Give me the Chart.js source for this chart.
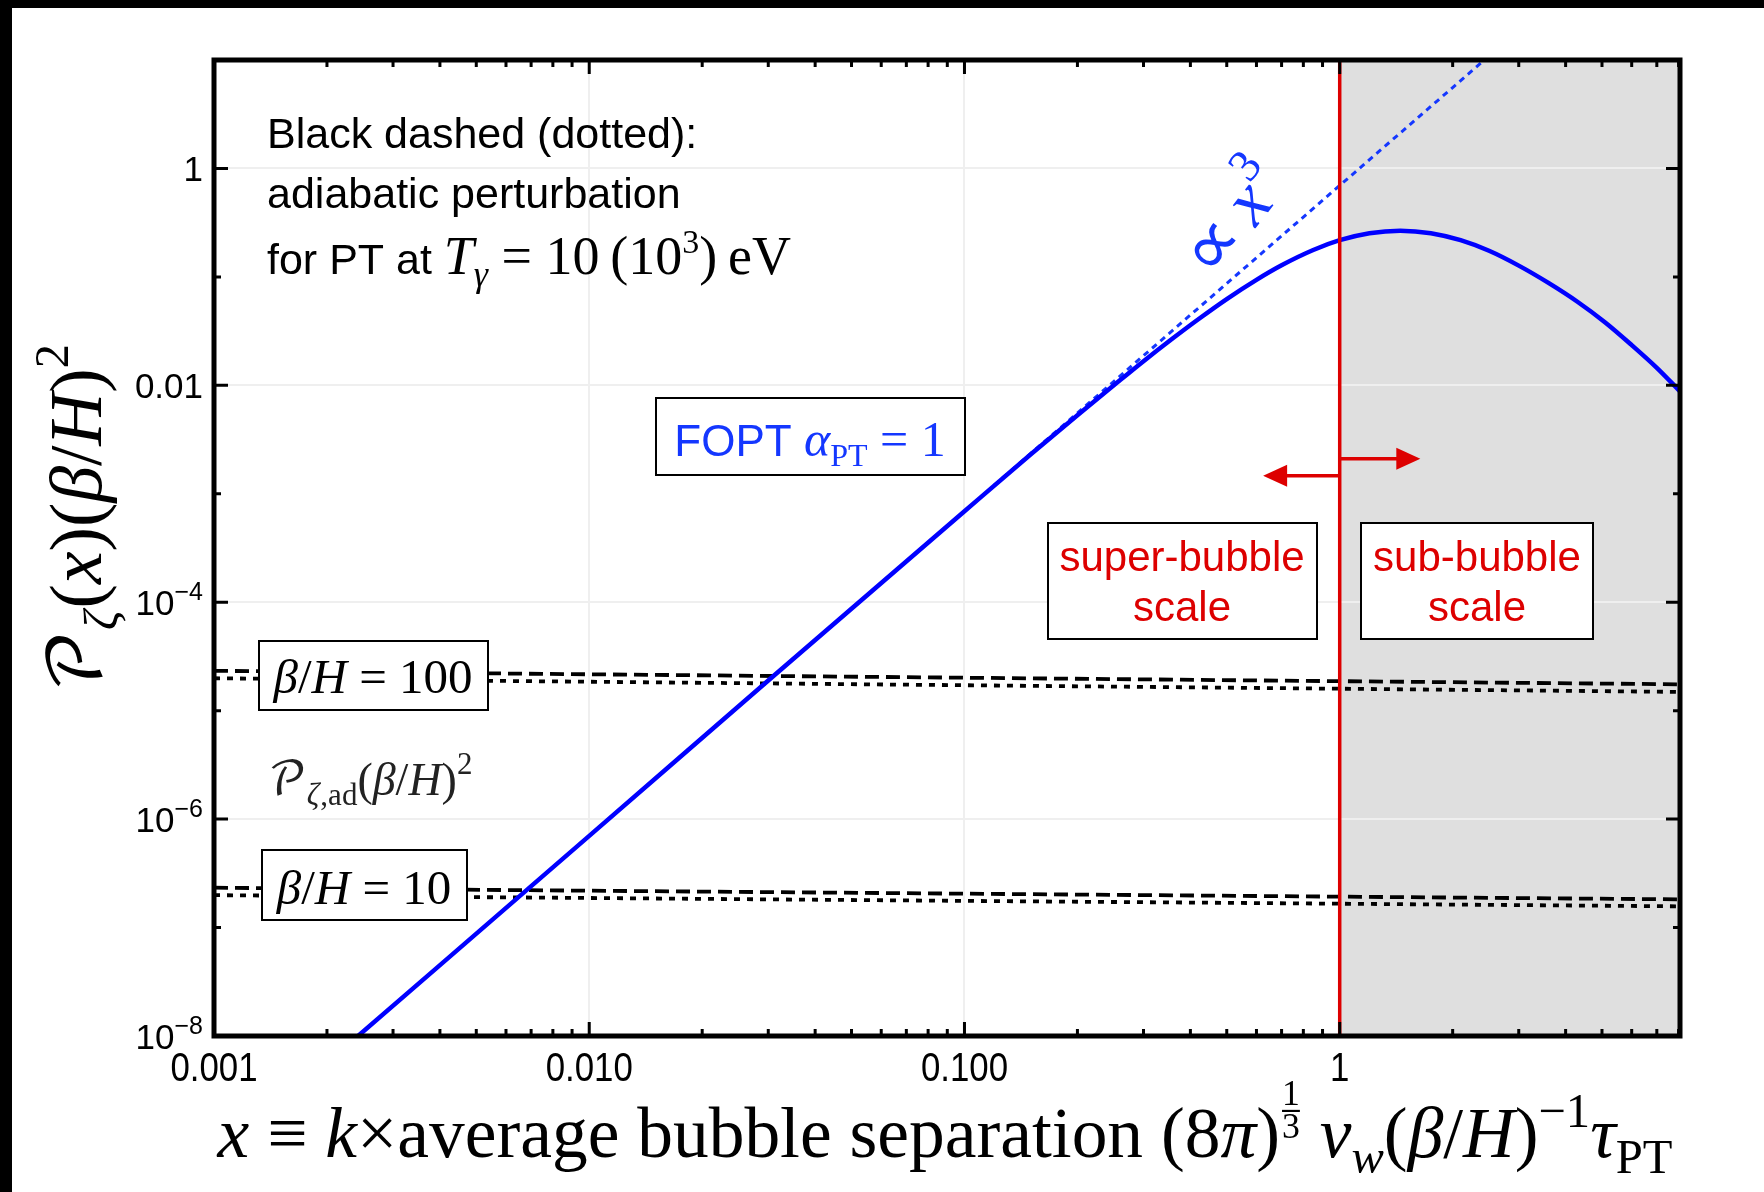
<!DOCTYPE html>
<html>
<head>
<meta charset="utf-8">
<script src="https://cdn.jsdelivr.net/npm/chart.js@4.4.0/dist/chart.umd.min.js"></script>
<style>
  html, body { margin: 0; padding: 0; background: #fff; }
  #wrap { width: 1764px; height: 1192px; }
</style>
</head>
<body>
<div id="wrap"><canvas id="chart" width="1764" height="1192"></canvas></div>
<script>
// axis ranges
const xRange = [0.001, 8.07];
const yRange = [1e-8, 10];

// labelled ticks
const xTicks = [0.001, 0.01, 0.1, 1];
const xTickLabels = ['0.001', '0.010', '0.100', '1'];
const yTicks = [1e-8, 1e-6, 1e-4, 1e-2, 1];
const yTickLabels = [['10', '\u22128'], ['10', '\u22126'], ['10', '\u22124'], ['0.01', ''], ['1', '']];

// FOPT curvature perturbation, alpha_PT = 1
const foptX = [0.00242, 0.01, 0.03, 0.1, 0.15, 0.2, 0.25, 0.3, 0.36, 0.42, 0.5, 0.6, 0.7, 0.85, 1.0,
               1.2, 1.45, 1.75, 2.1, 2.5, 3.0, 3.6, 4.3, 5.1, 6.0, 7.0, 8.07];
const foptY = [1e-8, 7.0e-7, 1.9e-5, 6.9e-4, 2.3e-3, 5.3e-3, 1.0e-2, 1.67e-2, 2.73e-2, 4.07e-2, 6.25e-2, 9.4e-2, 0.128, 0.177, 0.218,
               0.253, 0.267, 0.253, 0.218, 0.174, 0.127, 0.088, 0.059, 0.038, 0.0235, 0.0145, 0.0088];

// small-x asymptote ~ x^3
const cubicX = [0.12, 2.43];
const cubicY = [1.2e-3, 10];

// adiabatic spectrum times (beta/H)^2, at x = 0.001 and x = 8.07
const adX = [0.001, 8.07];
const ad100Dashed = [2.33e-5, 1.75e-5];
const ad100Dotted = [1.99e-5, 1.49e-5];
const ad10Dashed = [2.33e-7, 1.82e-7];
const ad10Dotted = [1.99e-7, 1.57e-7];

// boundary between super- and sub-bubble scales
const boundaryX = [1, 1];
const boundaryY = [1e-8, 10];

// arrow tips (x, y) for the two scale arrows
const arrowLeft = [0.625, 1.47e-3];
const arrowRight = [1.64, 2.1e-3];

const SANS = '"Liberation Sans", Arial, sans-serif';
const SERIF = '"Liberation Serif", "Times New Roman", serif';
const SCRIPT = '"DejaVu Math TeX Gyre", "DejaVu Serif", "DejaVu Sans", serif';
const BLUE = '#1437ff';
const RED = '#dd0000';

const pts = (xs, ys) => xs.map((x, i) => ({ x: x, y: ys[i] }));
const f = (size, family, style) => (style || '') + ' ' + size + 'px ' + family;

// minor tick values
const xMinor = [];
for (let e = -3; e <= 0; e++) {
  for (let m = 2; m <= 9; m++) {
    const v = m * Math.pow(10, e);
    if (v <= xRange[1]) xMinor.push(v);
  }
}
const yMinor = [1e-7, 1e-5, 1e-3, 1e-1];

// text runs: [{t, font, dy, color}] or fraction parts {frac:[a,b], font, dy}
function partWidth(ctx, p) {
  ctx.font = p.font;
  if (p.frac) return Math.max(ctx.measureText(p.frac[0]).width, ctx.measureText(p.frac[1]).width) + 4;
  return ctx.measureText(p.t).width + (p.kern || 0);
}
function runWidth(ctx, parts) {
  return parts.reduce((s, p) => s + partWidth(ctx, p), 0);
}
function drawRun(ctx, x, y, parts, align, color) {
  const w = runWidth(ctx, parts);
  let cx = align === 'center' ? x - w / 2 : align === 'right' ? x - w : x;
  ctx.textBaseline = 'alphabetic';
  for (const p of parts) {
    ctx.fillStyle = p.color || color || '#000';
    ctx.font = p.font;
    const pw = partWidth(ctx, p);
    if (p.frac) {
      const fs = p.size;
      ctx.textAlign = 'center';
      ctx.fillText(p.frac[0], cx + pw / 2, y + p.dy - fs * 0.62);
      ctx.fillRect(cx + 2, y + p.dy - fs * 0.48, pw - 4, Math.max(1.5, fs * 0.06));
      ctx.fillText(p.frac[1], cx + pw / 2, y + p.dy + fs * 0.3);
      ctx.textAlign = 'left';
    } else {
      ctx.textAlign = 'left';
      ctx.fillText(p.t, cx, y + (p.dy || 0));
    }
    cx += pw;
  }
  return w;
}

function xTitleParts(s) {
  const r = f(s, SERIF), it = f(s, SERIF, 'italic');
  const sm = f(s * 0.68, SERIF), smi = f(s * 0.68, SERIF, 'italic');
  return [
    { t: 'x', font: it }, { t: ' \u2261 ', font: r }, { t: 'k', font: it }, { t: '\u00d7', font: r },
    { t: 'average bubble separation ', font: r },
    { t: '(8', font: r }, { t: '\u03c0', font: it }, { t: ')', font: r },
    { frac: ['1', '3'], font: f(s * 0.5, SERIF), size: s * 0.5, dy: -s * 0.42 },
    { t: ' v', font: it }, { t: 'w', font: smi, dy: s * 0.22 },
    { t: '(', font: r }, { t: '\u03b2', font: it }, { t: '/', font: r }, { t: 'H', font: it }, { t: ')', font: r },
    { t: '\u22121', font: sm, dy: -s * 0.42 },
    { t: '\u03c4', font: it }, { t: 'PT', font: sm, dy: s * 0.22 }
  ];
}

function yTitleParts(s) {
  const r = f(s, SERIF), it = f(s, SERIF, 'italic');
  return [
    { t: '\ud835\udcab', font: f(s, SCRIPT) },
    { t: '\u03b6', font: f(s * 0.66, SERIF, 'italic'), dy: s * 0.22, kern: 2 },
    { t: '(', font: r }, { t: 'x', font: it }, { t: ')(', font: r },
    { t: '\u03b2', font: it }, { t: '/', font: r }, { t: 'H', font: it }, { t: ')', font: r },
    { t: '2', font: f(s * 0.66, SERIF), dy: -s * 0.45 }
  ];
}

function betaParts(s, n) {
  const r = f(s, SERIF), it = f(s, SERIF, 'italic');
  return [{ t: '\u03b2', font: it }, { t: '/', font: r }, { t: 'H', font: it }, { t: ' = ' + n, font: r }];
}

function box(ctx, x0, y0, x1, y1) {
  ctx.fillStyle = '#fff';
  ctx.fillRect(x0, y0, x1 - x0, y1 - y0);
  ctx.strokeStyle = '#000';
  ctx.lineWidth = 2;
  ctx.strokeRect(x0, y0, x1 - x0, y1 - y0);
}

function arrow(ctx, x0, x1, y) {
  const dir = Math.sign(x1 - x0);
  ctx.strokeStyle = RED;
  ctx.fillStyle = RED;
  ctx.lineWidth = 3.5;
  ctx.beginPath();
  ctx.moveTo(x0, y);
  ctx.lineTo(x1 - dir * 18, y);
  ctx.stroke();
  ctx.beginPath();
  ctx.moveTo(x1, y);
  ctx.lineTo(x1 - dir * 24, y - 11);
  ctx.lineTo(x1 - dir * 24, y + 11);
  ctx.closePath();
  ctx.fill();
}

const decor = {
  id: 'decor',
  beforeDraw(chart) {
    const { ctx, chartArea: a, scales: { x } } = chart;
    ctx.save();
    ctx.fillStyle = '#fff';
    ctx.fillRect(0, 0, chart.width, chart.height);
    const xs = x.getPixelForValue(boundaryX[0]);
    ctx.fillStyle = '#dfdfdf';
    ctx.fillRect(xs, a.top, a.right - xs, a.bottom - a.top);
    ctx.restore();
  },
  afterDatasetsDraw(chart) {
    const { ctx, scales: { x, y } } = chart;
    ctx.save();

    // scale arrows from the boundary line
    const xb = x.getPixelForValue(boundaryX[0]);
    arrow(ctx, xb, x.getPixelForValue(arrowLeft[0]), y.getPixelForValue(arrowLeft[1]));
    arrow(ctx, xb, x.getPixelForValue(arrowRight[0]), y.getPixelForValue(arrowRight[1]));

    // labelled boxes
    box(ctx, 656, 398, 965, 475);
    drawRun(ctx, 810, 456, [
      { t: 'FOPT ', font: f(44, SANS) },
      { t: '\u03b1', font: f(50, SERIF, 'italic') },
      { t: 'PT', font: f(32, SERIF), dy: 10 },
      { t: ' = 1', font: f(50, SERIF) }
    ], 'center', BLUE);

    box(ctx, 1048, 523, 1317, 639);
    box(ctx, 1361, 523, 1593, 639);
    ctx.fillStyle = RED;
    ctx.font = f(42, SANS);
    ctx.textAlign = 'center';
    ctx.fillText('super-bubble', 1182, 571);
    ctx.fillText('scale', 1182, 621);
    ctx.fillText('sub-bubble', 1477, 571);
    ctx.fillText('scale', 1477, 621);

    box(ctx, 259, 641, 488, 710);
    drawRun(ctx, 373, 693, betaParts(49, '100'), 'center');
    box(ctx, 262, 850, 467, 920);
    drawRun(ctx, 364, 904, betaParts(49, '10'), 'center');

    drawRun(ctx, 268, 795, [
      { t: '\ud835\udcab', font: f(46, SCRIPT) },
      { t: '\u03b6', font: f(31, SERIF, 'italic'), dy: 10, kern: 1 },
      { t: ',ad', font: f(31, SERIF), dy: 10 },
      { t: '(', font: f(46, SERIF) }, { t: '\u03b2', font: f(46, SERIF, 'italic') },
      { t: '/', font: f(46, SERIF) }, { t: 'H', font: f(46, SERIF, 'italic') },
      { t: ')', font: f(46, SERIF) }, { t: '2', font: f(31, SERIF), dy: -21 }
    ], 'left', '#222');

    // x^3 label along the asymptote
    ctx.save();
    ctx.translate(1234, 220);
    ctx.rotate(-52 * Math.PI / 180);
    drawRun(ctx, 0, 22, [
      { t: '\u221d', font: f(76, SERIF) },
      { t: '\u2009x', font: f(70, SERIF, 'italic') },
      { t: '3', font: f(46, SERIF), dy: -32 }
    ], 'center', BLUE);
    ctx.restore();

    // header text
    ctx.fillStyle = '#000';
    ctx.font = f(43, SANS);
    ctx.textAlign = 'left';
    ctx.fillText('Black dashed (dotted):', 267, 148);
    ctx.fillText('adiabatic perturbation', 267, 208);
    drawRun(ctx, 267, 274, [
      { t: 'for PT at ', font: f(43, SANS) },
      { t: 'T', font: f(54, SERIF, 'italic') },
      { t: '\u03b3', font: f(36, SERIF, 'italic'), dy: 12 },
      { t: ' = 10\u2009(10', font: f(54, SERIF) },
      { t: '3', font: f(34, SERIF), dy: -21 },
      { t: ')\u2009eV', font: f(54, SERIF) }
    ], 'left');
    ctx.restore();
  },
  afterDraw(chart) {
    const { ctx, chartArea: a, scales: { x, y } } = chart;
    ctx.save();

    // inward ticks on all four sides
    ctx.strokeStyle = '#000';
    ctx.lineWidth = 3;
    const tickX = (v, len) => {
      const px = x.getPixelForValue(v);
      ctx.beginPath();
      ctx.moveTo(px, a.bottom); ctx.lineTo(px, a.bottom - len);
      ctx.moveTo(px, a.top); ctx.lineTo(px, a.top + len);
      ctx.stroke();
    };
    const tickY = (v, len) => {
      const py = y.getPixelForValue(v);
      ctx.beginPath();
      ctx.moveTo(a.left, py); ctx.lineTo(a.left + len, py);
      ctx.moveTo(a.right, py); ctx.lineTo(a.right - len, py);
      ctx.stroke();
    };
    xTicks.forEach(v => tickX(v, 14));
    xMinor.forEach(v => tickX(v, 7));
    yTicks.forEach(v => tickY(v, 14));
    yMinor.forEach(v => tickY(v, 7));

    // frame
    ctx.lineWidth = 5;
    ctx.strokeRect(a.left, a.top, a.right - a.left, a.bottom - a.top);

    // tick labels (x labels in a narrow face)
    ctx.fillStyle = '#000';
    ctx.font = f(40, SANS);
    ctx.textAlign = 'center';
    ctx.textBaseline = 'alphabetic';
    xTicks.forEach((v, i) => {
      ctx.save();
      ctx.translate(x.getPixelForValue(v), 1081);
      ctx.scale(0.87, 1);
      ctx.fillText(xTickLabels[i], 0, 0);
      ctx.restore();
    });
    yTicks.forEach((v, i) => {
      const py = y.getPixelForValue(v);
      const [base, sup] = yTickLabels[i];
      drawRun(ctx, 203, py + 13, sup ? [
        { t: base, font: f(35, SANS) },
        { t: sup, font: f(25, SANS), dy: -15 }
      ] : [{ t: base, font: f(35, SANS) }], 'right');
    });

    // axis titles
    let s = 56;
    s = s * 1456 / runWidth(ctx, xTitleParts(s));
    drawRun(ctx, 945, 1157, xTitleParts(s), 'center');

    ctx.save();
    ctx.translate(101, 518);
    ctx.rotate(-Math.PI / 2);
    let t = 50;
    t = t * 349 / runWidth(ctx, yTitleParts(t));
    drawRun(ctx, 0, 0, yTitleParts(t), 'center');
    ctx.restore();

    // outer black bands
    ctx.fillStyle = '#000';
    ctx.fillRect(0, 0, chart.width, 8);
    ctx.fillRect(0, 0, 12, chart.height);
    ctx.restore();
  }
};

const fixedWidth = w => scale => { scale.width = w; };
const fixedHeight = h => scale => { scale.height = h; };
const majorOnly = list => scale => { scale.ticks = list.map(v => ({ value: v })); };

new Chart(document.getElementById('chart'), {
  type: 'line',
  data: {
    datasets: [
      { data: pts(boundaryX, boundaryY), borderColor: RED, borderWidth: 3.5, order: 0 },
      { data: pts(foptX, foptY), borderColor: '#0000ff', borderWidth: 4.5, cubicInterpolationMode: 'monotone', order: 1 },
      { data: pts(cubicX, cubicY), borderColor: BLUE, borderWidth: 3, borderDash: [6, 5], order: 2 },
      { data: pts(adX, ad100Dashed), borderColor: '#000', borderWidth: 3.8, borderDash: [14, 7], order: 3 },
      { data: pts(adX, ad100Dotted), borderColor: '#000', borderWidth: 3.8, borderDash: [6, 7], order: 3 },
      { data: pts(adX, ad10Dashed), borderColor: '#000', borderWidth: 3.8, borderDash: [14, 7], order: 3 },
      { data: pts(adX, ad10Dotted), borderColor: '#000', borderWidth: 3.8, borderDash: [6, 7], order: 3 }
    ]
  },
  options: {
    responsive: false,
    animation: false,
    devicePixelRatio: 1,
    layout: { padding: { left: 0, top: 60, right: 84, bottom: 0 } },
    elements: { point: { radius: 0 }, line: { fill: false, tension: 0 } },
    plugins: { legend: { display: false }, tooltip: { enabled: false } },
    scales: {
      x: {
        type: 'logarithmic', min: xRange[0], max: xRange[1],
        afterFit: fixedHeight(156),
        afterBuildTicks: majorOnly(xTicks),
        ticks: { display: false },
        border: { display: false },
        grid: { color: '#efefef', lineWidth: 2, drawTicks: false }
      },
      y: {
        type: 'logarithmic', min: yRange[0], max: yRange[1],
        afterFit: fixedWidth(214),
        afterBuildTicks: majorOnly(yTicks),
        ticks: { display: false },
        border: { display: false },
        grid: { color: '#efefef', lineWidth: 2, drawTicks: false }
      }
    }
  },
  plugins: [decor]
});
</script>
</body>
</html>
